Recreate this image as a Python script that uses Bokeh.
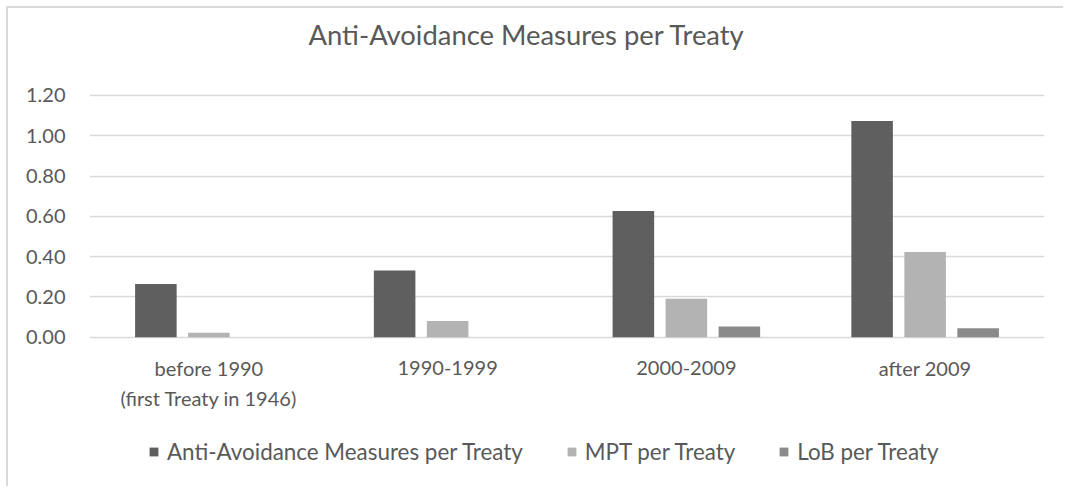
from bokeh.plotting import figure
from bokeh.models import (FactorRange, Range1d, FixedTicker, NumeralTickFormatter,
                          Legend, LegendItem, ColumnDataSource)
from bokeh.core.properties import value
from bokeh.transform import dodge
from bokeh.embed import file_html
from bokeh.resources import INLINE

# ---- data ----
categories = ["before 1990\n(first Treaty in 1946)", "1990-1999", "2000-2009", "after 2009"]
anti_avoidance = [0.264, 0.331, 0.626, 1.073]
mpt = [0.022, 0.081, 0.191, 0.423]
lob = [0.0, 0.0, 0.053, 0.044]
series_names = ["Anti-Avoidance Measures per Treaty", "MPT per Treaty", "LoB per Treaty"]
y_tick_values = [0.0, 0.2, 0.4, 0.6, 0.8, 1.0, 1.2]
title_text = "Anti-Avoidance Measures per Treaty"

# ---- layout / styles ----
FONT = "Lato"
TXT = "#595959"
GRID = "#d9d9d9"
colors = ["#5f5f5f", "#b3b3b3", "#8a8a8a"]

PX_PER_UNIT = 202.5          # vertical scale of the value axis
TOP_EXTRA_PX = 5             # frame space above the 1.20 gridline
BOTTOM_EXTRA_PX = 142        # frame space below 0 (category labels + legend)
y_lo = -BOTTOM_EXTRA_PX / PX_PER_UNIT
y_hi = y_tick_values[-1] + TOP_EXTRA_PX / PX_PER_UNIT
LINE1_PX = 31
LINE2_PX = 61

source = ColumnDataSource(dict(cat=categories, anti=anti_avoidance, mpt=mpt, lob=lob))

# category label lines (drawn at the category positions)
lab_x, lab_y, lab_t = [], [], []
for c in categories:
    for i, line in enumerate(c.split("\n")):
        lab_x.append(c)
        lab_y.append(-(LINE1_PX if i == 0 else LINE2_PX) / PX_PER_UNIT)
        lab_t.append(line)
label_source = ColumnDataSource(dict(x=lab_x, y=lab_y, t=lab_t))

p = figure(width=1057, height=480, output_backend="svg", toolbar_location=None,
           x_range=FactorRange(factors=categories), y_range=Range1d(y_lo, y_hi),
           min_border_left=81, min_border_right=21, min_border_top=80, min_border_bottom=10)

p.styles = {"border-left": "2px solid #d9d9d9", "border-top": "2px solid #d9d9d9",
            "margin-left": "6px", "margin-top": "6px"}

off = 0.222
w = 0.174
r1 = p.vbar(x=dodge("cat", -off, range=p.x_range), top="anti", width=w, source=source,
            fill_color=colors[0], line_color=None)
r2 = p.vbar(x=dodge("cat", 0.0, range=p.x_range), top="mpt", width=w, source=source,
            fill_color=colors[1], line_color=None)
r3 = p.vbar(x=dodge("cat", off, range=p.x_range), top="lob", width=w, source=source,
            fill_color=colors[2], line_color=None)

p.text(x="x", y="y", text="t", source=label_source, text_align="center",
       text_baseline="alphabetic",
       text_font=value(FONT), text_font_size="20px", text_color=TXT)

# title (trailing blank line lifts the text up in its panel)
p.title.text = title_text + "\n"
p.title.text_font = FONT
p.title.text_font_size = "27.4px"
p.title.text_font_style = "normal"
p.title.text_color = TXT
p.title.align = "left"
p.title.offset = 219
p.title.standoff = 14

p.outline_line_color = None
p.background_fill_color = "white"
p.border_fill_color = "white"

# y axis
p.yaxis.ticker = FixedTicker(ticks=y_tick_values)
p.yaxis.formatter = NumeralTickFormatter(format="0.00")
p.yaxis.axis_line_color = None
p.yaxis.major_tick_line_color = None
p.yaxis.minor_tick_line_color = None
p.yaxis.major_tick_out = 0
p.yaxis.major_tick_in = 0
p.yaxis.major_label_standoff = 24
p.yaxis.major_label_text_font = FONT
p.yaxis.major_label_text_font_size = "20px"
p.yaxis.major_label_text_color = TXT

p.xaxis.visible = False

# grid
p.xgrid.grid_line_color = None
p.ygrid.ticker = FixedTicker(ticks=y_tick_values)
p.ygrid.grid_line_color = GRID
p.ygrid.grid_line_width = 1.3

# legend
legend = Legend(items=[LegendItem(label=series_names[0], renderers=[r1]),
                       LegendItem(label=series_names[1], renderers=[r2]),
                       LegendItem(label=series_names[2], renderers=[r3])],
                orientation="horizontal", location=(59, 13),
                glyph_width=11, glyph_height=11, label_standoff=8, spacing=43,
                padding=0, margin=0, border_line_color=None, background_fill_alpha=0,
                label_text_font=FONT, label_text_font_size="22.4px", label_text_color=TXT,
                label_height=25)
p.add_layout(legend, "center")

open("out.html", "w").write(file_html(p, INLINE))
